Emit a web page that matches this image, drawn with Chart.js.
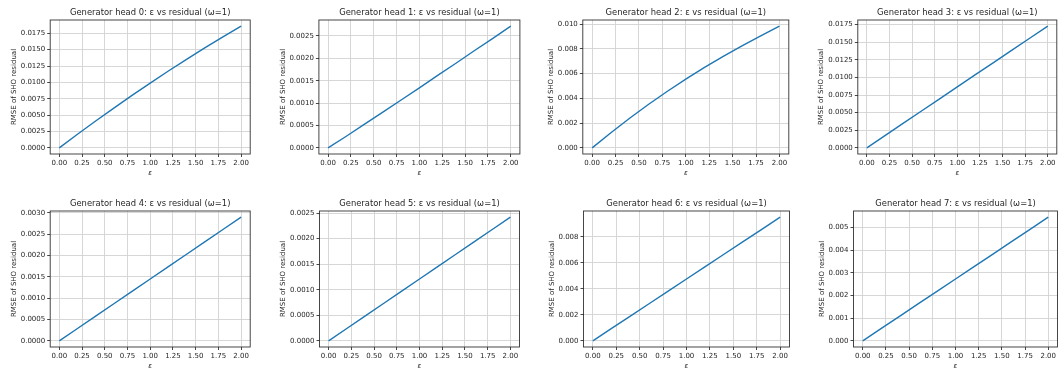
<!DOCTYPE html>
<html><head><meta charset="utf-8">
<script src="https://cdn.jsdelivr.net/npm/chart.js@4"></script>
<style>
body{margin:0;background:#fff;width:1058px;height:370px;overflow:hidden;position:relative}
canvas{position:absolute}
</style>
</head><body>
<script>
// ---- data ----
const epsilon = [0, 0.2, 0.4, 0.6, 0.8, 1.0, 1.2, 1.4, 1.6, 1.8, 2.0];
const head0 = [0, 0.00208, 0.0041, 0.00608, 0.00802, 0.0099, 0.01174, 0.01352, 0.01526, 0.01696, 0.0186];
const head1 = [0, 0.00026, 0.00053, 0.00080, 0.00107, 0.00134, 0.00162, 0.00189, 0.00217, 0.00244, 0.00272];
const head2 = [0, 0.00122, 0.0024, 0.00351, 0.00456, 0.00556, 0.0065, 0.00739, 0.00824, 0.00905, 0.00984];
const head3 = [0, 0.00174, 0.00347, 0.0052, 0.00692, 0.00866, 0.01038, 0.0121, 0.01382, 0.01555, 0.01727];
const head4 = [0, 0.00029, 0.00058, 0.00087, 0.00116, 0.00145, 0.00174, 0.00203, 0.00232, 0.00261, 0.0029];
const head5 = [0, 0.000242, 0.000484, 0.000726, 0.000968, 0.00121, 0.001452, 0.001694, 0.001936, 0.002178, 0.00242];
const head6 = [0, 0.00095, 0.0019, 0.00285, 0.0038, 0.00475, 0.0057, 0.00665, 0.0076, 0.00855, 0.0095];
const head7 = [0, 0.000546, 0.00109, 0.00164, 0.00218, 0.00273, 0.00328, 0.00382, 0.00437, 0.00491, 0.00546];
const series = [head0, head1, head2, head3, head4, head5, head6, head7];

const titles = [
  'Generator head 0: ε vs residual (ω=1)',
  'Generator head 1: ε vs residual (ω=1)',
  'Generator head 2: ε vs residual (ω=1)',
  'Generator head 3: ε vs residual (ω=1)',
  'Generator head 4: ε vs residual (ω=1)',
  'Generator head 5: ε vs residual (ω=1)',
  'Generator head 6: ε vs residual (ω=1)',
  'Generator head 7: ε vs residual (ω=1)'
];
const xLabel = 'ε';
const yLabel = 'RMSE of SHO residual';

const xTicks = [0, 0.25, 0.5, 0.75, 1.0, 1.25, 1.5, 1.75, 2.0];
const xTickLabels = ['0.00', '0.25', '0.50', '0.75', '1.00', '1.25', '1.50', '1.75', '2.00'];

const yTicks0 = [0, 0.0025, 0.005, 0.0075, 0.01, 0.0125, 0.015, 0.0175];
const yTickLabels0 = ['0.0000', '0.0025', '0.0050', '0.0075', '0.0100', '0.0125', '0.0150', '0.0175'];
const yTicks1 = [0, 0.0005, 0.001, 0.0015, 0.002, 0.0025];
const yTickLabels1 = ['0.0000', '0.0005', '0.0010', '0.0015', '0.0020', '0.0025'];
const yTicks2 = [0, 0.002, 0.004, 0.006, 0.008, 0.010];
const yTickLabels2 = ['0.000', '0.002', '0.004', '0.006', '0.008', '0.010'];
const yTicks3 = [0, 0.0025, 0.005, 0.0075, 0.01, 0.0125, 0.015, 0.0175];
const yTickLabels3 = ['0.0000', '0.0025', '0.0050', '0.0075', '0.0100', '0.0125', '0.0150', '0.0175'];
const yTicks4 = [0, 0.0005, 0.001, 0.0015, 0.002, 0.0025, 0.003];
const yTickLabels4 = ['0.0000', '0.0005', '0.0010', '0.0015', '0.0020', '0.0025', '0.0030'];
const yTicks5 = [0, 0.0005, 0.001, 0.0015, 0.002, 0.0025];
const yTickLabels5 = ['0.0000', '0.0005', '0.0010', '0.0015', '0.0020', '0.0025'];
const yTicks6 = [0, 0.002, 0.004, 0.006, 0.008];
const yTickLabels6 = ['0.000', '0.002', '0.004', '0.006', '0.008'];
const yTicks7 = [0, 0.001, 0.002, 0.003, 0.004, 0.005];
const yTickLabels7 = ['0.000', '0.001', '0.002', '0.003', '0.004', '0.005'];
const yTicksAll = [yTicks0, yTicks1, yTicks2, yTicks3, yTicks4, yTicks5, yTicks6, yTicks7];
const yTickLabelsAll = [yTickLabels0, yTickLabels1, yTickLabels2, yTickLabels3, yTickLabels4, yTickLabels5, yTickLabels6, yTickLabels7];

// ---- layout (plot-area boxes in page pixels) ----
const layout = [
  {L: 50,  R: 250,  T: 20,  B: 154, yoff: 36},
  {L: 319, R: 520,  T: 20,  B: 154, yoff: 35.7},
  {L: 583, R: 789,  T: 20,  B: 154, yoff: 31.6},
  {L: 858, R: 1057, T: 20,  B: 154, yoff: 36.6},
  {L: 50,  R: 250,  T: 211, B: 347, yoff: 36},
  {L: 319, R: 519,  T: 211, B: 347, yoff: 36.3},
  {L: 583, R: 789,  T: 211, B: 347, yoff: 31.3},
  {L: 853, R: 1057, T: 211, B: 347, yoff: 31.3}
];

const FONT = 'DejaVu Sans';
const tickFont = {family: FONT, size: 7};
const txt = '#262626';

const framePlugin = {
  id: 'frame',
  afterDraw(chart, args, opts) {
    const {ctx, chartArea: a} = chart;
    ctx.save();
    ctx.strokeStyle = '#333';
    ctx.lineWidth = 0.9;
    ctx.strokeRect(a.left, a.top, a.right - a.left, a.bottom - a.top);
    ctx.fillStyle = txt;
    ctx.font = '8.4px "' + FONT + '"';
    ctx.textAlign = 'center';
    ctx.textBaseline = 'middle';
    ctx.fillText(opts.text, (a.left + a.right) / 2, a.top - 7);
    ctx.restore();
  }
};

function makePanel(i) {
  const P = layout[i];
  const yw = P.yoff + 4.2;
  const padTop = 16, xh = 28, padR = 2;
  const w = Math.ceil((P.R - P.L) + yw + padR);
  const h = (P.B - P.T) + padTop + xh;
  const c = document.createElement('canvas');
  c.width = w; c.height = h;
  c.style.width = w + 'px'; c.style.height = h + 'px';
  c.style.left = (P.L - yw) + 'px';
  c.style.top = (P.T - padTop) + 'px';
  document.body.appendChild(c);
  const vals = series[i];
  const ymaxData = Math.max(...vals), yminData = Math.min(...vals);
  const span = ymaxData - yminData;
  const yT = yTicksAll[i], yL = yTickLabelsAll[i];
  new Chart(c, {
    type: 'line',
    data: {datasets: [{
      data: epsilon.map((e, k) => ({x: e, y: vals[k]})),
      borderColor: '#1f77b4', borderWidth: 1.4, pointRadius: 0, tension: 0, fill: false
    }]},
    options: {
      responsive: false, animation: false, devicePixelRatio: 1,
      layout: {padding: {top: padTop, right: w - yw - (P.R - P.L), left: 0, bottom: 0}},
      plugins: {legend: {display: false}, tooltip: {enabled: false}, frame: {text: titles[i]}},
      scales: {
        x: {
          type: 'linear', min: -0.1, max: 2.1,
          afterFit: s => { s.height = xh; },
          afterBuildTicks: s => { s.ticks = xTicks.map(v => ({value: v})); },
          ticks: {autoSkip: false, maxRotation: 0, padding: 2, color: txt, font: tickFont,
                  callback: (v, idx) => xTickLabels[idx]},
          grid: {color: '#d3d3d3', lineWidth: 0.9, tickLength: 3, tickColor: '#333', tickWidth: 0.9},
          border: {display: false},
          title: {display: true, text: xLabel, color: txt, font: {family: FONT, size: 7, style: 'italic'},
                  padding: {top: 0, bottom: 4.8}}
        },
        y: {
          type: 'linear', min: yminData - 0.05 * span, max: ymaxData + 0.05 * span,
          afterFit: s => { s.width = yw; },
          afterBuildTicks: s => { s.ticks = yT.map(v => ({value: v})); },
          ticks: {autoSkip: false, padding: 2, color: txt, font: tickFont,
                  callback: (v, idx) => yL[idx]},
          grid: {color: '#d3d3d3', lineWidth: 0.9, tickLength: 3, tickColor: '#333', tickWidth: 0.9},
          border: {display: false},
          title: {display: true, text: yLabel, color: txt, font: {family: FONT, size: 7},
                  padding: {top: 0, bottom: 0}}
        }
      }
    },
    plugins: [framePlugin]
  });
}
for (let i = 0; i < 8; i++) makePanel(i);
</script>
</body></html>
